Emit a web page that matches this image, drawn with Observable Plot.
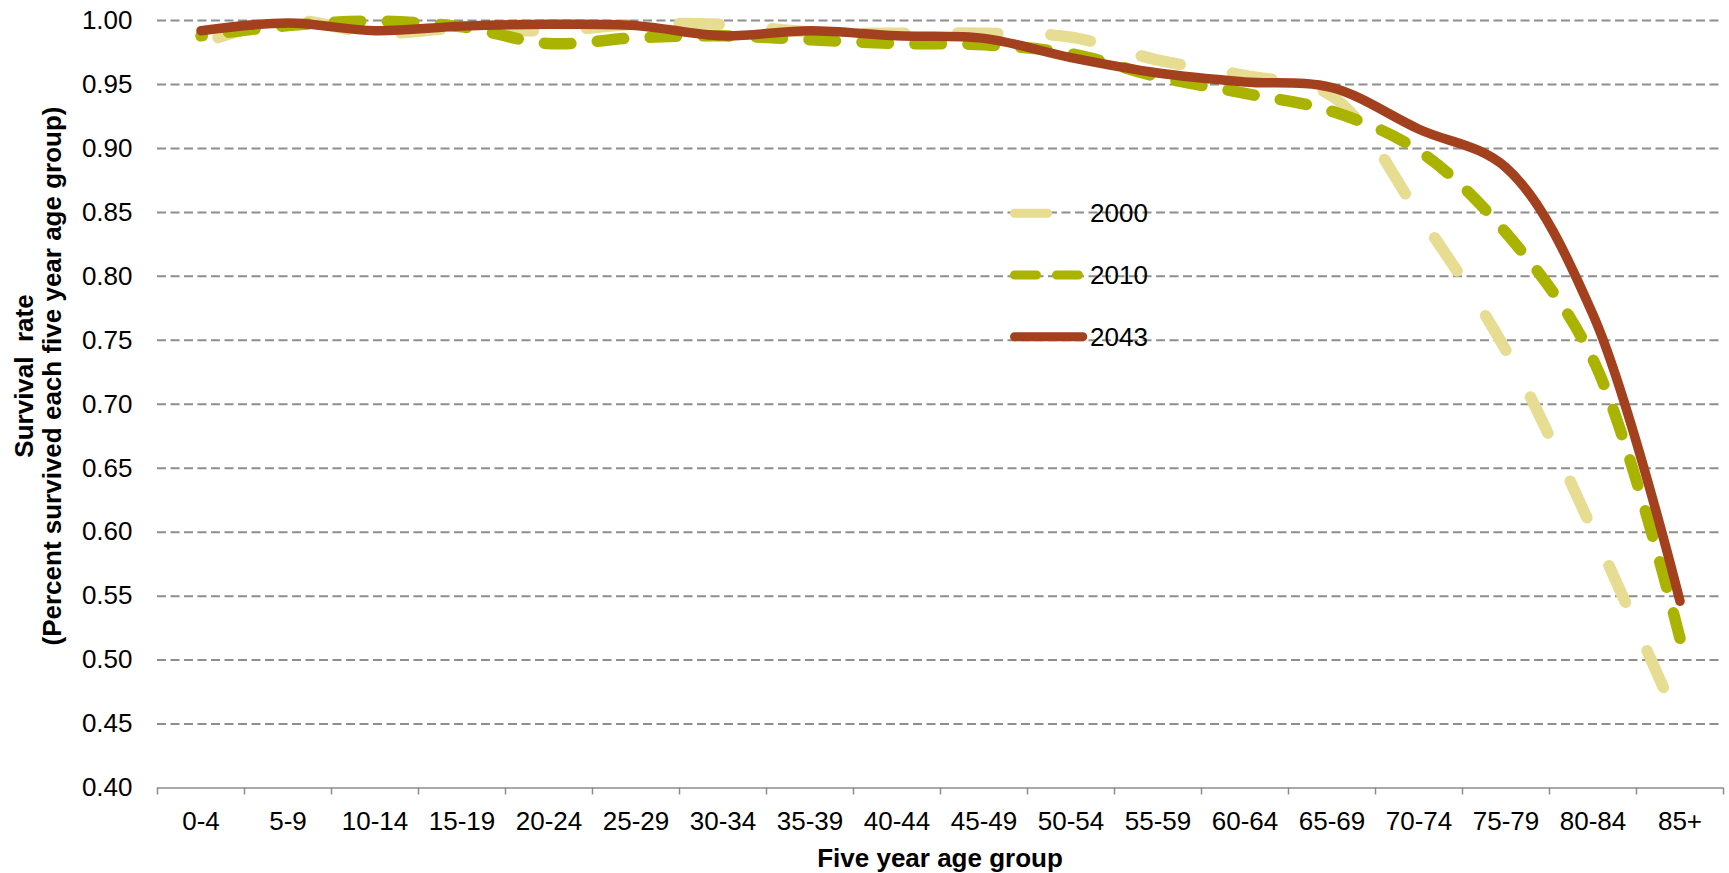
<!DOCTYPE html>
<html><head><meta charset="utf-8">
<script src="https://cdn.jsdelivr.net/npm/d3@7"></script>
<script src="https://cdn.jsdelivr.net/npm/@observablehq/plot@0.6"></script>
<style>
html,body{margin:0;padding:0;background:#fff;}
#chart{position:relative;width:1729px;height:873px;}
svg text{font-family:"Liberation Sans",Arial,sans-serif;}
</style></head><body><div id="chart"></div>
<script>
const ageGroups = ["0-4","5-9","10-14","15-19","20-24","25-29","30-34","35-39","40-44","45-49","50-54","55-59","60-64","65-69","70-74","75-79","80-84","85+"];
const rate2000 = [0.982, 1.000, 0.990, 0.994, 0.992, 0.997, 0.997, 0.991, 0.990, 0.990, 0.987, 0.969, 0.957, 0.941, 0.848, 0.742, 0.601, 0.449];
const rate2010 = [0.988, 0.996, 0.9995, 0.995, 0.982, 0.9865, 0.988, 0.985, 0.982, 0.981, 0.974, 0.956, 0.943, 0.929, 0.898, 0.834, 0.735, 0.517];
const rate2043 = [0.992, 0.998, 0.992, 0.9956, 0.997, 0.996, 0.988, 0.992, 0.988, 0.986, 0.971, 0.959, 0.952, 0.9475, 0.915, 0.885, 0.770, 0.546];
const yTicks = [0.40, 0.45, 0.50, 0.55, 0.60, 0.65, 0.70, 0.75, 0.80, 0.85, 0.90, 0.95, 1.00];
const seriesNames = ["2000", "2010", "2043"];
const seriesColors = ["#e6dd92", "#aab400", "#a3401e"];
const seriesWidths = [11.5, 11.5, 9.5];
const seriesDashes = ["40,53", "26.5,26.5", null];
const tailGaps = [41.8, 0, 0];
const legendDashes = [null, "22,20", null];
const legendEnds = [1047.5, 1078.8, 1082.8];
const xTitle = "Five year age group";
const yTitle = ["Survival  rate", "(Percent survived each five year age group)"];

const seriesValues = [rate2000, rate2010, rate2043];
const data = [];
seriesNames.forEach((s, k) => seriesValues[k].forEach((v, i) => data.push({series: s, i, v})));

const lineMarks = seriesNames.map((s, k) => Plot.line(data.filter(d => d.series === s), {
  x: "i", y: "v", stroke: seriesColors[k], strokeWidth: seriesWidths[k],
  strokeDasharray: seriesDashes[k] || undefined, strokeLinecap: "round", strokeLinejoin: "round",
  curve: "catmull-rom"
}));

const chart = Plot.plot({
  width: 1729, height: 873,
  marginLeft: 157, marginRight: 6, marginTop: 20, marginBottom: 85.5,
  style: {fontFamily: "Liberation Sans, Arial, sans-serif", fontSize: "26px", color: "#000", background: "#fff", overflow: "visible"},
  x: {domain: [-0.5, ageGroups.length - 0.5]},
  y: {domain: [0.40, 1.00]},
  marks: [
    Plot.ruleY(yTicks.filter(t => t > 0.41), {stroke: "#8e8e8e", strokeWidth: 2, strokeDasharray: "9,4.5"}),
    Plot.ruleY([yTicks[0]], {stroke: "#8c8c8c", strokeWidth: 1.5}),
    Plot.axisY({ticks: yTicks, tickSize: 0, tickPadding: 25, tickFormat: d3.format(".2f"), label: null}),
    Plot.axisX({ticks: d3.range(-0.5, ageGroups.length), tickSize: 7, tickFormat: () => "", label: null, stroke: "#8c8c8c", strokeWidth: 1.5}),
    Plot.axisX({ticks: d3.range(ageGroups.length), tickSize: 0, tickPadding: 24, tickFormat: i => ageGroups[i], label: null}),
    ...lineMarks
  ]
});
document.getElementById("chart").appendChild(chart);

const svg = d3.select(chart);

// align dash phase so each dashed line ends the way the reference does
const linePaths = svg.selectAll('g[aria-label="line"] path').nodes();
seriesNames.forEach((s, k) => {
  if (!seriesDashes[k] || !linePaths[k]) return;
  const p = linePaths[k];
  const L = p.getTotalLength();
  const [d, g] = seriesDashes[k].split(",").map(Number);
  const P = d + g;
  const o = (((d - (L - tailGaps[k])) % P) + P) % P;
  p.setAttribute("stroke-dashoffset", o);
});

svg.append("text")
  .attr("x", 940).attr("y", 867).attr("text-anchor", "middle")
  .attr("font-weight", "bold").attr("font-size", 26).attr("fill", "#000")
  .text(xTitle);

const gy = svg.append("g").attr("transform", "translate(0,376) rotate(-90)");
[33, 61].forEach((yy, j) => gy.append("text")
  .attr("x", 0).attr("y", yy).attr("text-anchor", "middle")
  .attr("font-weight", "bold").attr("font-size", 26).attr("fill", "#000")
  .style("white-space", "pre").attr("xml:space", "preserve")
  .text(yTitle[j]));

// legend
const legendY = [213.3, 275, 336.7];
seriesNames.forEach((s, k) => {
  const g = svg.append("g");
  g.append("line").attr("x1", 1014.5).attr("x2", legendEnds[k]).attr("y1", legendY[k]).attr("y2", legendY[k])
    .attr("stroke", seriesColors[k]).attr("stroke-width", 9)
    .attr("stroke-dasharray", legendDashes[k]).attr("stroke-linecap", "round");
  g.append("text").attr("x", 1090).attr("y", legendY[k]).attr("dy", "0.35em")
    .attr("text-anchor", "start")
    .attr("font-size", 26).attr("fill", "#000").text(s);
});
</script></body></html>
